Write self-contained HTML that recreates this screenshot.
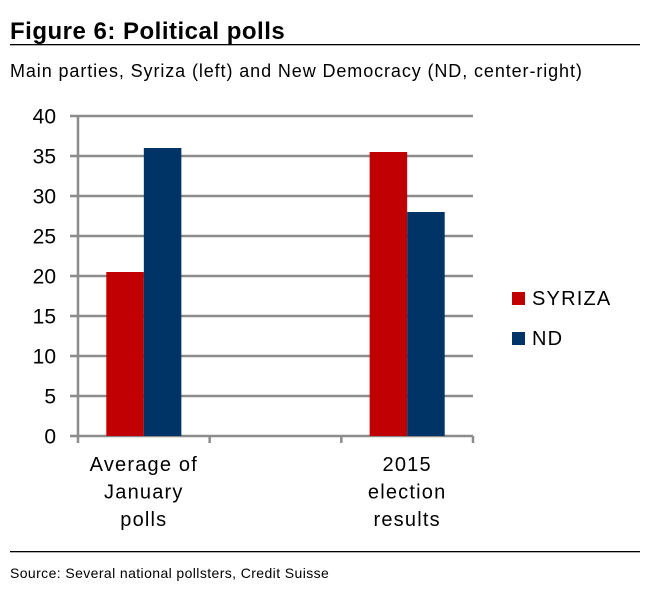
<!DOCTYPE html>
<html><head><meta charset="utf-8"><style>
body{margin:0;background:#fff;font-family:"Liberation Sans",Arial,sans-serif;}
svg{display:block}
</style></head><body>
<svg width="665" height="589">
<text x="10" y="39" font-size="24" font-weight="bold" letter-spacing="0.5" fill="#000">Figure 6: Political polls</text>
<rect x="10" y="44" width="630" height="1.3" fill="#000"/>
<text x="10" y="77" font-size="18" letter-spacing="0.9" fill="#000">Main parties, Syriza (left) and New Democracy (ND, center-right)</text>
<g id="chart"></g>
<rect x="10" y="551" width="630" height="1.3" fill="#000"/>
<text x="10" y="578" font-size="14" letter-spacing="0.4" fill="#000">Source: Several national pollsters, Credit Suisse</text>
</svg>
<script>
const categories = [["Average of","January","polls"], [], ["2015","election","results"]];
const syriza = [20.5, null, 35.5];
const nd = [36, null, 28];
const yTicks = [0,5,10,15,20,25,30,35,40];
const seriesNames = ["SYRIZA","ND"];
const colors = ["#c00000","#003366"];

const NS="http://www.w3.org/2000/svg";
const g=document.getElementById('chart');
const x0=78,x1=473,y0=436,y1=116,yMax=40;
const y=v=>y0-(v/yMax)*(y0-y1);
const bw=(x1-x0)/categories.length;
function mk(tag,attrs){const e=document.createElementNS(NS,tag);for(const k in attrs)e.setAttribute(k,attrs[k]);g.appendChild(e);return e;}
yTicks.forEach(t=>{
  const l=mk('line',{x1:70,x2:x1,y1:y(t),y2:y(t),stroke:'#8c8c8c','stroke-width':2.5});
  
  
  const tx=mk('text',{x:56,y:y(t)+7.5,'font-size':21,'text-anchor':'end',fill:'#000'});
  tx.textContent=t;
  
  
});
const ax=mk('line',{x1:x0,x2:x0,y1:y1,y2:y0,stroke:'#8c8c8c','stroke-width':2.5});


for(let i=0;i<=categories.length;i++){
  const xt=x0+i*bw;
  const t=mk('line',{x1:xt,x2:xt,y1:y0,y2:y0+7,stroke:'#8c8c8c','stroke-width':2.5});
  
  
}
const barW=bw*0.285;
categories.forEach((c,i)=>{
  const cx=x0+(i+0.5)*bw;
  [syriza,nd].forEach((s,j)=>{
    const v=s[i]; if(v==null) return;
    const r=mk('rect',{x:cx-barW+j*barW,y:y(v),width:barW,height:y0-y(v),fill:colors[j]});
    
    
  });
  c.forEach((line,k)=>{
    const t=mk('text',{x:cx,y:471+k*27.5,'font-size':20,'letter-spacing':1.2,'text-anchor':'middle',fill:'#000'});
    t.textContent=line;
    
    
  });
});
seriesNames.forEach((n,j)=>{
  const yy=292+j*40;
  const r=mk('rect',{x:512,y:yy,width:13,height:13,fill:colors[j]});
  
  
  const t=mk('text',{x:532,y:yy+13,'font-size':20,'letter-spacing':1.2,fill:'#000'});
  t.textContent=n;
  
  
});
</script>
</body></html>
